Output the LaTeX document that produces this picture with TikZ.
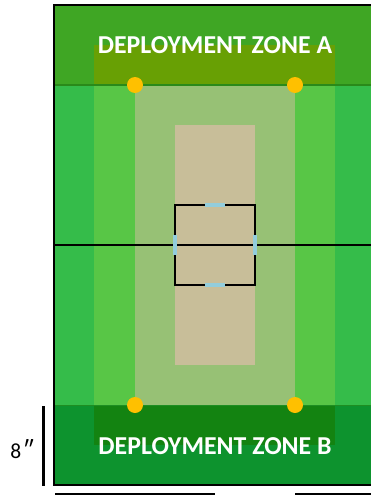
\documentclass[tikz,border=0pt]{standalone}
\usepackage{fontspec}
\setmainfont{Carlito}
\usetikzlibrary{positioning}
\definecolor{zoneAcol}{HTML}{3FA624}
\definecolor{zoneAin}{HTML}{68A004}
\definecolor{zoneBcol}{HTML}{0D932E}
\definecolor{zoneBin}{HTML}{138311}
\definecolor{outercol}{HTML}{35BC4A}
\definecolor{stripcol}{HTML}{58C646}
\definecolor{fieldcol}{HTML}{97C175}
\definecolor{pitchcol}{HTML}{C8BE99}
\definecolor{edgecol}{HTML}{2A8A1A}
\definecolor{cutcol}{HTML}{92CDDC}
\definecolor{objcol}{HTML}{FFC000}
\tikzset{
  zone/.style      = {font=\fontsize{25.8}{30}\selectfont\bfseries, text=white, inner sep=0pt},
  objective/.style = {circle, fill=objcol, minimum size=16pt, inner sep=0pt},
  cut/.style       = {line width=4pt, draw=cutcol, line cap=butt},
  scalebar/.style  = {line width=3pt, black},
  rim/.style       = {line width=2pt, black}
}
\begin{document}
\begin{tikzpicture}[x=1pt, y=-1pt]
  \useasboundingbox (0,0) rectangle (371,495);
  \clip (0,0) rectangle (371,495);
  % deployment zones
  \fill[zoneAcol] (54,5) rectangle (380,85);
  \fill[zoneAin] (94,45) rectangle (335,85);
  \fill[zoneBcol] (54,405) rectangle (380,485);
  \fill[zoneBin] (94,405) rectangle (335,445);
  % no man's land strips
  \fill[outercol] (54,85) rectangle (380,405);
  \fill[stripcol] (94,85) rectangle (335,405);
  \fill[fieldcol] (135,85) rectangle (295,405);
  \fill[pitchcol] (175,125) rectangle (255,365);
  \draw[edgecol, line width=1.2pt] (54,85) -- (380,85);
  \draw[edgecol!60!zoneBcol, line width=1pt] (54,405) -- (380,405);
  % centre
  \draw[line width=1.3pt] (54,245) -- (380,245);
  \draw[line width=1.8pt] (175,205) rectangle (255,285);
  \draw[cut] (205,205) -- (225,205);
  \draw[cut] (205,285) -- (225,285);
  \draw[cut] (175,235) -- (175,255);
  \draw[cut] (255,235) -- (255,255);
  % objectives
  \node[objective] (objA1) at (135,85) {};
  \node[objective] (objA2) at (295,85) {};
  \node[objective] (objB1) at (135,405) {};
  \node[objective] (objB2) at (295,405) {};
  \node[zone] (labA) at (215,45) {DEPLOYMENT ZONE A};
  \node[zone] (labB) at (215,446) {DEPLOYMENT ZONE B};
  % board rim
  \draw[rim] (380,5) -- (54,5) -- (54,485) -- (380,485);
  % scale
  \coordinate (s1) at (43,406);
  \coordinate (s2) at (43,486);
  \draw[scalebar] (s1) -- (s2);
  \node[font=\fontsize{21.5}{24}\selectfont, anchor=east, inner sep=0pt] (len) at (34,449) {8\kern2.5pt{\fontsize{25}{24}\selectfont″}};
  \draw[line width=1.5pt] (55,494) -- (215,494);
  \draw[line width=1.5pt] (295,494) -- (380,494);
\end{tikzpicture}
\end{document}
